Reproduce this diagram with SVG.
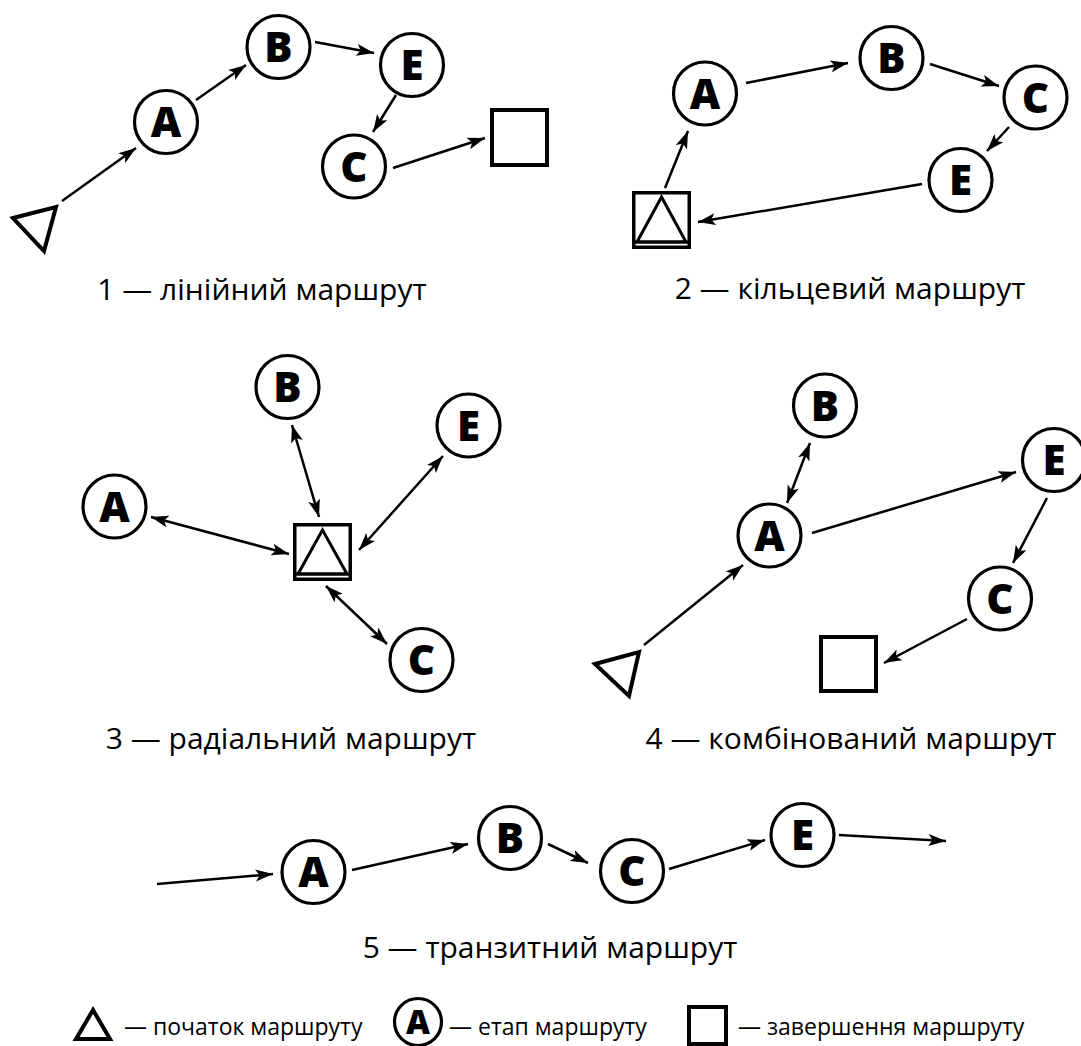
<svg xmlns="http://www.w3.org/2000/svg" width="1081" height="1046" viewBox="0 0 1081 1046">
<defs>
<marker id="ah" markerUnits="userSpaceOnUse" viewBox="0 0 18 13" markerWidth="18" markerHeight="13" refX="17.5" refY="6.5" orient="auto-start-reverse"><path d="M0,0.5 L17.5,6.5 L0,12.5 L4,6.5 Z" fill="#000"/></marker>
</defs>
<style>
.node circle{fill:#fff;stroke:#000;stroke-width:3.2}
.lbl{font-family:"Open Sans","Noto Sans",sans-serif;font-weight:800;font-size:42px;text-anchor:middle}
.end{fill:#fff;stroke:#000;stroke-width:4}
.start{fill:none;stroke:#000;stroke-width:4;stroke-linejoin:miter}
.se rect{fill:#fff;stroke:#000;stroke-width:3.5}
.se polygon{fill:none;stroke:#000;stroke-width:3}
.se line{stroke:#000;stroke-width:3}
#connectors line{stroke:#000;stroke-width:2.5;marker-end:url(#ah)}
#connectors line.bi{marker-start:url(#ah)}
.title{font-family:"Open Sans","Noto Sans",sans-serif;font-size:30px;text-anchor:middle;fill:#000}
.leg{font-family:"Open Sans","Noto Sans",sans-serif;font-size:23px;fill:#000}
</style>
<rect width="1081" height="1046" fill="#fff"/>

<g id="connectors">
<!-- panel 1 -->
<line x1="62" y1="201" x2="136" y2="148"/>
<line x1="196" y1="100" x2="246" y2="65"/>
<line x1="315" y1="42" x2="374" y2="53"/>
<line x1="396" y1="95" x2="373" y2="132"/>
<line x1="393" y1="168" x2="485" y2="138"/>
<!-- panel 2 -->
<line x1="665" y1="188" x2="688" y2="131"/>
<line x1="746" y1="83" x2="848" y2="63"/>
<line x1="930" y1="64" x2="999" y2="86"/>
<line x1="1009" y1="127" x2="987" y2="151"/>
<line x1="922" y1="184" x2="698" y2="222"/>
<!-- panel 3 -->
<line class="bi" x1="151" y1="517" x2="289" y2="554"/>
<line class="bi" x1="292" y1="425" x2="319" y2="517"/>
<line class="bi" x1="443" y1="456" x2="359" y2="550"/>
<line class="bi" x1="326" y1="586" x2="387" y2="644"/>
<!-- panel 4 -->
<line x1="644" y1="645" x2="743" y2="565"/>
<line class="bi" x1="787" y1="503" x2="810" y2="443"/>
<line x1="812" y1="533" x2="1016" y2="472"/>
<line x1="1047" y1="498" x2="1013" y2="563"/>
<line x1="967" y1="619" x2="884" y2="663"/>
<!-- panel 5 -->
<line x1="157" y1="884" x2="273" y2="874"/>
<line x1="352" y1="870" x2="468" y2="844"/>
<line x1="548" y1="844" x2="588" y2="863"/>
<line x1="669" y1="869" x2="765" y2="840"/>
<line x1="839" y1="835" x2="946" y2="841"/>
</g>

<!-- panel 1 -->
<g id="p1-start"><polygon class="start" points="13,218 56,207 44,251"/></g>
<g id="p1-A" class="node"><circle cx="166" cy="122" r="31.5"/><text class="lbl" x="166" y="137">A</text></g>
<g id="p1-B" class="node"><circle cx="278.5" cy="47" r="31.5"/><text class="lbl" x="278.5" y="62">B</text></g>
<g id="p1-E" class="node"><circle cx="412" cy="65" r="31.5"/><text class="lbl" x="412" y="80">E</text></g>
<g id="p1-C" class="node"><circle cx="354" cy="166.5" r="31.5"/><text class="lbl" x="354" y="181.5">C</text></g>
<g id="p1-end"><rect class="end" x="492" y="110" width="55" height="55"/></g>
<text id="t1" class="title" x="262" y="300">1 — лінійний маршрут</text>

<!-- panel 2 -->
<g id="p2-startend" class="se" transform="translate(632,191)"><rect x="1.75" y="1.75" width="55.5" height="54.5"/><polygon points="29.5,6 5,51 54,51"/><line x1="2" y1="51" x2="57" y2="51"/></g>
<g id="p2-A" class="node"><circle cx="705" cy="93.5" r="31.5"/><text class="lbl" x="705" y="108.5">A</text></g>
<g id="p2-B" class="node"><circle cx="891.5" cy="58" r="31.5"/><text class="lbl" x="891.5" y="73">B</text></g>
<g id="p2-C" class="node"><circle cx="1035.5" cy="97.5" r="31.5"/><text class="lbl" x="1035.5" y="112.5">C</text></g>
<g id="p2-E" class="node"><circle cx="960.5" cy="180" r="31.5"/><text class="lbl" x="960.5" y="195">E</text></g>
<text id="t2" class="title" x="850" y="299">2 — кільцевий маршрут</text>

<!-- panel 3 -->
<g id="p3-startend" class="se" transform="translate(293,523)"><rect x="1.75" y="1.75" width="55.5" height="54.5"/><polygon points="29.5,7 5,51 54,51"/><line x1="2" y1="51" x2="57" y2="51"/></g>
<g id="p3-A" class="node"><circle cx="114.5" cy="506.5" r="31.5"/><text class="lbl" x="114.5" y="521.5">A</text></g>
<g id="p3-B" class="node"><circle cx="287.5" cy="387" r="31.5"/><text class="lbl" x="287.5" y="402">B</text></g>
<g id="p3-E" class="node"><circle cx="468.5" cy="425.5" r="31.5"/><text class="lbl" x="468.5" y="440.5">E</text></g>
<g id="p3-C" class="node"><circle cx="421.5" cy="660" r="31.5"/><text class="lbl" x="421.5" y="675">C</text></g>
<text id="t3" class="title" x="291" y="749">3 — радіальний маршрут</text>

<!-- panel 4 -->
<g id="p4-start"><polygon class="start" points="595,664 639,652 629,696"/></g>
<g id="p4-A" class="node"><circle cx="769.5" cy="535.5" r="31.5"/><text class="lbl" x="769.5" y="550.5">A</text></g>
<g id="p4-B" class="node"><circle cx="825" cy="405.5" r="31.5"/><text class="lbl" x="825" y="420.5">B</text></g>
<g id="p4-E" class="node"><circle cx="1054" cy="460" r="31.5"/><text class="lbl" x="1054" y="475">E</text></g>
<g id="p4-C" class="node"><circle cx="1000" cy="598.5" r="31.5"/><text class="lbl" x="1000" y="613.5">C</text></g>
<g id="p4-end"><rect class="end" x="821" y="637" width="55" height="54"/></g>
<text id="t4" class="title" x="851" y="749">4 — комбінований маршрут</text>

<!-- panel 5 -->
<g id="p5-A" class="node"><circle cx="313.5" cy="872" r="31.5"/><text class="lbl" x="313.5" y="887">A</text></g>
<g id="p5-B" class="node"><circle cx="510" cy="838" r="31.5"/><text class="lbl" x="510" y="853">B</text></g>
<g id="p5-C" class="node"><circle cx="632" cy="871" r="31.5"/><text class="lbl" x="632" y="886">C</text></g>
<g id="p5-E" class="node"><circle cx="802.5" cy="835" r="31.5"/><text class="lbl" x="802.5" y="850">E</text></g>
<text id="t5" class="title" x="550" y="958">5 — транзитний маршрут</text>

<!-- legend -->
<g id="legend-start"><polygon class="start" points="76,1039 93,1010 110,1039"/><text class="leg" x="124" y="1035">— початок маршруту</text></g>
<g id="legend-stage" class="node"><circle cx="418" cy="1022" r="23.5"/><text class="lbl" x="418" y="1034" style="font-size:33px">A</text><text class="leg" x="449" y="1035">— етап маршруту</text></g>
<g id="legend-end"><rect class="end" x="689" y="1007" width="37" height="37"/><text class="leg" x="738" y="1035">— завершення маршруту</text></g>
</svg>
